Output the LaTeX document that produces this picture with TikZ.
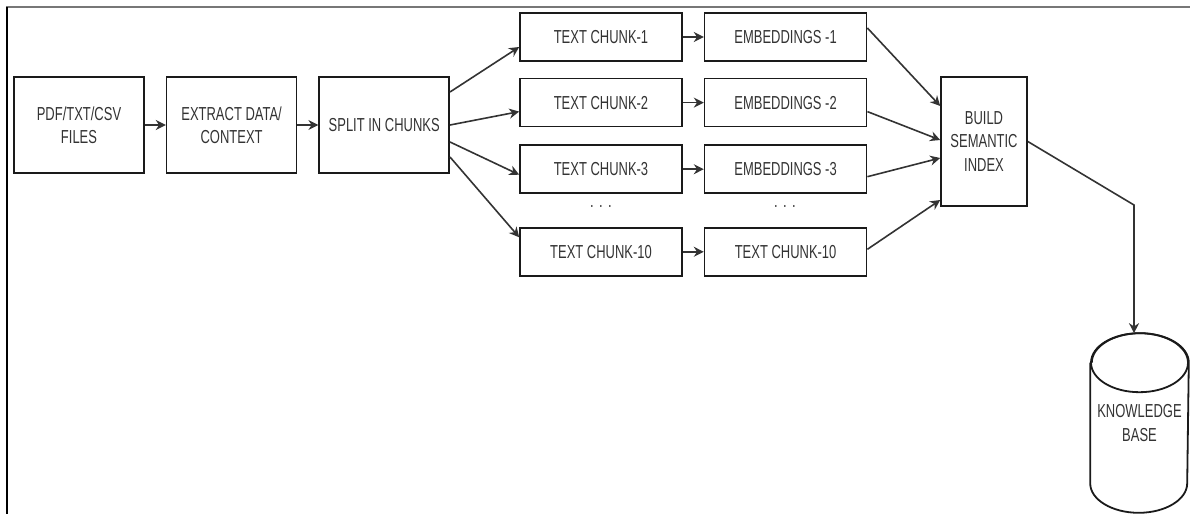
\documentclass[tikz,border=0pt]{standalone}
\usepackage{fontspec}
\setmainfont{Liberation Sans}[FakeStretch=0.69]
\usetikzlibrary{arrows.meta, positioning}
\definecolor{pipeink}{HTML}{333333}
\definecolor{pipeedge}{HTML}{1A1A1A}
\definecolor{pipegrey}{HTML}{777777}
\tikzset{
  pbox/.style={draw=pipeedge, line width=0.8pt, align=center, inner sep=2pt, text=pipeink, font=\fontsize{9.4}{11.6}\selectfont},
  pstage/.style={pbox, minimum width=65pt, minimum height=48pt},
  pchunk/.style={pbox, minimum width=81pt, minimum height=24pt},
  pflow/.style={-{Stealth[length=5pt, width=5pt]}, line width=0.8pt, draw=pipeink},
  pdots/.style={font=\fontsize{9.4}{11.6}\selectfont, text=pipeink, anchor=base},
  pdrum/.style={draw=pipeedge, line width=0.9pt},
}

\begin{document}
\begin{tikzpicture}[x=0.5pt, y=-0.5pt, node distance=10.5pt]
    \useasboundingbox (0,0) rectangle (1190,514);
    \draw[pipegrey, line width=1pt] (6,7) -- (1190,7);
    \draw[black, line width=1pt] (7,7) -- (7,514);
    % stages
    \node[pstage] (src) at (79,125) {PDF/TXT/CSV\\FILES};
    \node[pstage, right=of src] (extract) {EXTRACT DATA/\\CONTEXT};
    \node[pstage, right=of extract] (split) {SPLIT IN CHUNKS};
    % chunks and embeddings
    \node[pchunk] (tc1) at (601,37) {TEXT CHUNK-1};
    \node[pchunk, below=8pt of tc1] (tc2) {TEXT CHUNK-2};
    \node[pchunk, below=8.5pt of tc2] (tc3) {TEXT CHUNK-3};
    \node[pchunk, below=16.5pt of tc3] (tc10) {TEXT CHUNK-10};
    \node[pchunk, right=of tc1] (emb1) {EMBEDDINGS -1};
    \node[pchunk, right=of tc2] (emb2) {EMBEDDINGS -2};
    \node[pchunk, right=of tc3] (emb3) {EMBEDDINGS -3};
    \node[pchunk, right=of tc10] (emb10) {TEXT CHUNK-10};
    \node[pdots] (dotsA) at (601,207) {.\hspace{2.7pt}.\hspace{2.7pt}.};
    \node[pdots] (dotsB) at (785,207) {.\hspace{2.7pt}.\hspace{2.7pt}.};
    % index and store
    \node[pbox, minimum width=43pt, minimum height=64.5pt] (index) at (984,141.5) {BUILD\\SEMANTIC\\INDEX};
    \node[pbox, draw=none, minimum width=48.5pt, minimum height=89pt] (kb) at (1139.5,423) {KNOWLEDGE\\BASE};
    \draw[pdrum] ([yshift=-14.75pt]kb.north west) -- ([yshift=14.75pt]kb.south west)
        arc[start angle=180, end angle=360, x radius=24.25pt, y radius=14.75pt]
        -- ([yshift=-14.75pt]kb.north east)
        arc[start angle=0, end angle=180, x radius=24.25pt, y radius=14.75pt];
    \draw[pdrum] ([yshift=-14.75pt]kb.north) ellipse[x radius=24.25pt, y radius=14.75pt];
    \coordinate (turn) at (1134,205);
    \draw[pflow] (src) -- (extract);
    \draw[pflow] (extract) -- (split);
    \draw[pflow] ([yshift=16.5pt]split.east) -- ([yshift=-5pt]tc1.west);
    \draw[pflow] (split.east) -- ([yshift=-4.5pt]tc2.west);
    \draw[pflow] ([yshift=-8.5pt]split.east) -- ([yshift=-2.75pt]tc3.west);
    \draw[pflow] ([yshift=-16pt]split.east) -- ([yshift=7.25pt]tc10.west);
    \draw[pflow] (tc1) -- (emb1);
    \draw[pflow] (tc2) -- (emb2);
    \draw[pflow] (tc3) -- (emb3);
    \draw[pflow] (tc10) -- (emb10);
    \draw[pflow] ([yshift=4.5pt]emb1.east) -- ([yshift=17.75pt]index.west);
    \draw[pflow] ([yshift=-4.5pt]emb2.east) -- ([yshift=0.75pt]index.west);
    \draw[pflow] ([yshift=-3.75pt]emb3.east) -- ([yshift=-8.25pt]index.west);
    \draw[pflow] ([yshift=1.25pt]emb10.east) -- ([yshift=-29.25pt]index.west);
    \draw[pflow] (index.east) -- (turn) -- (turn |- kb.north);
\end{tikzpicture}
\end{document}
